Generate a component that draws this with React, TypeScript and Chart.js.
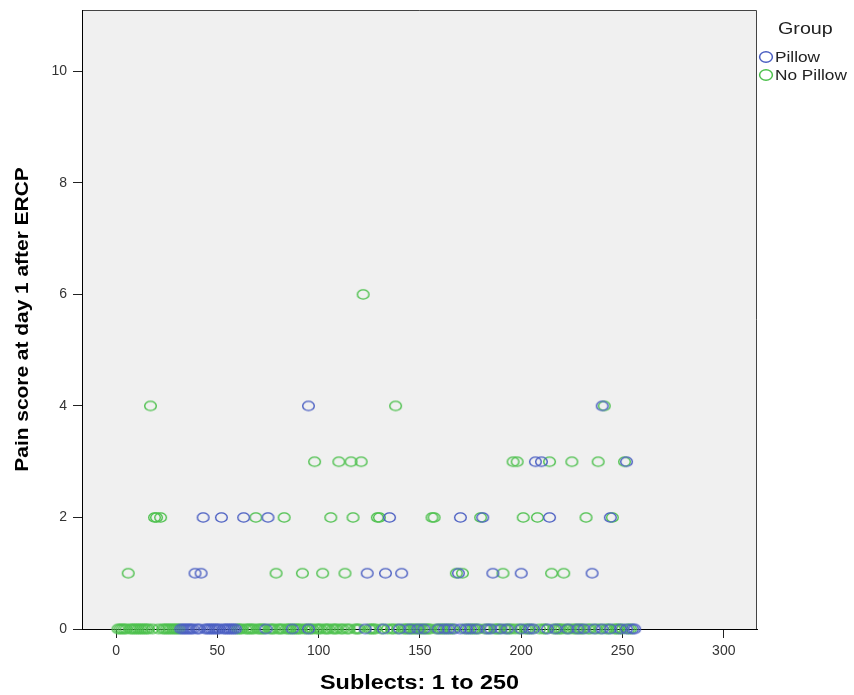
import React, { useEffect, useRef } from 'react';
import { Chart, registerables } from 'chart.js';

Chart.register(...registerables);

// Subject numbers per pain score, per group
const pillowScore4 = [95, 240];
const pillowScore3 = [207, 210, 252];
const pillowScore2 = [43, 52, 63, 75, 135, 170, 181, 214, 244];
const pillowScore1 = [39, 42, 124, 133, 141, 169, 186, 200, 235];
const pillowScore0 = [
  32, 33, 34, 35, 36, 37, 38, 40, 41, 44, 45, 46, 47, 48, 49, 50, 51, 53, 54, 55, 56, 57, 58,
  59, 74, 87, 95, 123, 132, 140, 145, 149, 152, 159, 162, 164, 167, 170, 173, 175, 178, 183,
  185, 190, 193, 200, 204, 206, 213, 217, 223, 228, 231, 236, 240, 244, 249, 252, 255, 256,
];

const noPillowScore6 = [122];
const noPillowScore4 = [17, 138, 241];
const noPillowScore3 = [98, 110, 116, 121, 196, 198, 214, 225, 238, 251];
const noPillowScore2 = [19, 20, 22, 69, 83, 106, 117, 129, 130, 156, 157, 180, 201, 208, 232, 245];
const noPillowScore1 = [6, 79, 92, 102, 113, 168, 171, 191, 215, 221];
const noPillowScore0 = [
  1, 2, 3, 4, 5, 7, 8, 9, 10, 11, 12, 13, 14, 15, 16, 18, 21, 23, 24, 25, 26, 27, 28, 29, 30, 31,
  60, 61, 62, 64, 65, 66, 67, 68, 70, 71, 72, 73, 76, 77, 78, 80, 81, 82, 84, 85, 86, 88, 89, 90,
  91, 93, 94, 96, 97, 99, 100, 101, 103, 104, 105, 107, 108, 109, 111, 112, 114, 115, 118, 119,
  120, 125, 126, 127, 128, 131, 134, 136, 137, 139, 142, 143, 144, 146, 147, 148, 150, 151, 153,
  154, 155, 158, 160, 161, 163, 165, 166, 172, 174, 176, 177, 179, 182, 184, 187, 188, 189, 192,
  194, 195, 197, 199, 202, 203, 205, 209, 211, 212, 216, 218, 219, 220, 222, 224, 226, 227, 229,
  230, 233, 234, 237, 239, 242, 243, 246, 247, 248, 250, 253, 254,
];

const groupLabels = ['Pillow', 'No Pillow'];
const xTicks = [0, 50, 100, 150, 200, 250, 300];
const yTicks = [0, 2, 4, 6, 8, 10];
const xTitle = 'Sublects: 1 to 250';
const yTitle = 'Pain score at day 1 after ERCP';
const legendTitle = 'Group';

const BLUE = '#4a5ec2';
const GREEN = '#4cc04c';

function toPoints(levels: [number, number[]][]) {
  const pts: { x: number; y: number }[] = [];
  levels.forEach(([score, ids]) => ids.forEach((id) => pts.push({ x: id, y: score })));
  return pts;
}

const pillowPoints = () =>
  toPoints([
    [0, pillowScore0],
    [1, pillowScore1],
    [2, pillowScore2],
    [3, pillowScore3],
    [4, pillowScore4],
  ]);
const noPillowPoints = () =>
  toPoints([
    [0, noPillowScore0],
    [1, noPillowScore1],
    [2, noPillowScore2],
    [3, noPillowScore3],
    [4, noPillowScore4],
    [6, noPillowScore6],
  ]);

const FONT = "'Liberation Sans', Arial, sans-serif";

function ellipseMarker(color: string, rx: number, ry: number, lw: number) {
  const c = document.createElement('canvas');
  const w = Math.ceil(2 * rx + lw + 2);
  const h = Math.ceil(2 * ry + lw + 2);
  c.width = w;
  c.height = h;
  const ctx = c.getContext('2d')!;
  ctx.strokeStyle = color;
  ctx.lineWidth = lw;
  ctx.beginPath();
  ctx.ellipse(w / 2, h / 2, rx, ry, 0, 0, Math.PI * 2);
  ctx.stroke();
  return c;
}

function stretchedText(
  ctx: CanvasRenderingContext2D,
  text: string,
  x: number,
  y: number,
  sx: number,
  align: CanvasTextAlign,
  rot = 0
) {
  ctx.save();
  ctx.translate(x, y);
  if (rot) ctx.rotate(rot);
  ctx.scale(sx, 1);
  ctx.textAlign = align;
  ctx.textBaseline = 'middle';
  ctx.fillText(text, 0, 0);
  ctx.restore();
}

const bgPlugin = {
  id: 'bgPlugin',
  beforeDraw(chart: any) {
    const { ctx, chartArea } = chart;
    const { left, top, right, bottom } = chartArea;
    ctx.save();
    ctx.fillStyle = '#f0f0f0';
    ctx.fillRect(left, top, right - left, bottom - top);
    ctx.strokeStyle = '#444';
    ctx.lineWidth = 1;
    ctx.beginPath();
    ctx.moveTo(left, top + 0.5);
    ctx.lineTo(right - 0.5, top + 0.5);
    ctx.lineTo(right - 0.5, bottom);
    ctx.stroke();
    ctx.restore();
  },
  afterDraw(chart: any) {
    const { ctx, chartArea } = chart;
    ctx.save();
    // axis titles
    ctx.fillStyle = '#000';
    ctx.font = `bold 20px ${FONT}`;
    stretchedText(ctx, xTitle, (chartArea.left + chartArea.right) / 2, 683, 1.17, 'center');
    ctx.font = `bold 19px ${FONT}`;
    stretchedText(ctx, yTitle, 23, (chartArea.top + chartArea.bottom) / 2, 1.1, 'center', -Math.PI / 2);
    // legend
    ctx.fillStyle = '#222';
    ctx.font = `17px ${FONT}`;
    stretchedText(ctx, legendTitle, 778, 29, 1.16, 'left');
    ctx.font = `15px ${FONT}`;
    const colors = [BLUE, GREEN];
    groupLabels.forEach((lab, i) => {
      const y = 57 + i * 18;
      ctx.strokeStyle = colors[i];
      ctx.lineWidth = 1.5;
      ctx.beginPath();
      ctx.ellipse(766, y, 6.4, 5.3, 0, 0, Math.PI * 2);
      ctx.stroke();
      ctx.fillStyle = '#222';
      stretchedText(ctx, lab, 775, y + 1, 1.15, 'left');
    });
    ctx.restore();
  },
};

export default function App() {
  const ref = useRef<HTMLCanvasElement | null>(null);
  useEffect(() => {
    if (!ref.current) return;
    const blueMarker = ellipseMarker(BLUE, 5.8, 4.6, 1.4);
    const greenMarker = ellipseMarker(GREEN, 5.8, 4.6, 1.4);
    const chart = new Chart(ref.current, {
      type: 'scatter',
      data: {
        datasets: [
          {
            label: groupLabels[0],
            data: pillowPoints(),
            pointStyle: blueMarker as any,
            borderColor: BLUE,
            backgroundColor: 'rgba(0,0,0,0)',
            pointRadius: 6,
            clip: false as any,
          },
          {
            label: groupLabels[1],
            data: noPillowPoints(),
            pointStyle: greenMarker as any,
            borderColor: GREEN,
            backgroundColor: 'rgba(0,0,0,0)',
            pointRadius: 6,
            clip: false as any,
          },
        ],
      },
      options: {
        responsive: false,
        animation: false,
        layout: { autoPadding: false, padding: { top: 10, right: 97, left: 0, bottom: 0 } },
        plugins: { legend: { display: false }, tooltip: { enabled: false } },
        scales: {
          x: {
            type: 'linear',
            min: -16.8,
            max: 316.4,
            z: 1,
            afterBuildTicks: (s: any) => {
              s.ticks = xTicks.map((v) => ({ value: v }));
            },
            afterFit: (s: any) => {
              s.height = 66;
              s.paddingLeft = 0;
              s.paddingRight = 0;
            },
            grid: { drawOnChartArea: false, drawTicks: true, tickLength: 9, color: '#222', lineWidth: 1 },
            border: { display: true, color: '#000', width: 1 },
            ticks: { color: '#333', padding: 5, font: { family: FONT, size: 14 }, maxRotation: 0 },
            title: { display: false },
          },
          y: {
            type: 'linear',
            min: 0,
            max: 11.1,
            z: 1,
            afterBuildTicks: (s: any) => {
              s.ticks = yTicks.map((v) => ({ value: v }));
            },
            afterFit: (s: any) => {
              s.width = 82;
              s.paddingTop = 0;
              s.paddingBottom = 0;
            },
            grid: { drawOnChartArea: false, drawTicks: true, tickLength: 9, color: '#222', lineWidth: 1 },
            border: { display: true, color: '#000', width: 1 },
            ticks: { color: '#333', padding: 6, font: { family: FONT, size: 14 } },
            title: { display: false },
          },
        },
      },
      plugins: [bgPlugin],
    });
    return () => chart.destroy();
  }, []);
  return (
    <div style={{ position: 'fixed', left: 0, top: 0, width: 854, height: 695, background: '#fff' }}>
      <canvas ref={ref} width={854} height={695} style={{ display: 'block' }} />
    </div>
  );
}
